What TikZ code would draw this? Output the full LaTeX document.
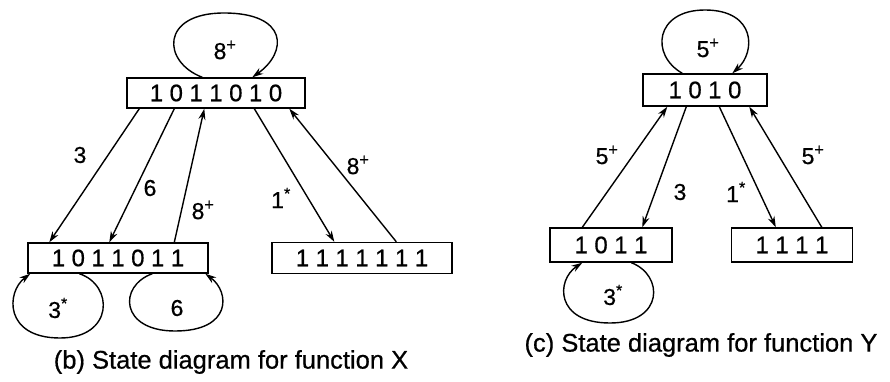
\documentclass[tikz,border=0pt]{standalone}
\usepackage{fontspec}
\setmainfont{Liberation Sans}[FakeBold=0.6]
\usetikzlibrary{arrows.meta}
\newcommand\gp{\kern6.5pt}
\begin{document}
\begin{tikzpicture}[x=1pt,y=-1pt,
  statebox/.style={draw,line width=1.4pt,inner sep=0pt,font=\fontsize{24}{24}\selectfont},
  arr/.style={line width=1.4pt,-{Stealth[length=11pt,width=7pt]}},
  lbl/.style={font=\fontsize{23}{23}\selectfont,inner sep=0pt},
  captext/.style={font=\fontsize{25.5}{26}\selectfont,inner sep=0pt}]
\useasboundingbox (0,0) rectangle (890,382);
% boxes (b)
\node[statebox,minimum width=178pt,minimum height=30pt] (X1) at (216,93) {1\gp0\gp1\gp1\gp0\gp1\gp0};
\node[statebox,minimum width=180pt,minimum height=30pt] (X2) at (118,258) {1\gp0\gp1\gp1\gp0\gp1\gp1};
\node[statebox,minimum width=180pt,minimum height=31pt] (X3) at (362,258) {1\gp1\gp1\gp1\gp1\gp1\gp1};
% boxes (c)
\node[statebox,minimum width=124pt,minimum height=32pt] (Y1) at (705,90) {1\gp0\gp1\gp0};
\node[statebox,minimum width=122pt,minimum height=34pt] (Y2) at (611,245) {1\gp0\gp1\gp1};
\node[statebox,minimum width=121pt,minimum height=34pt] (Y3) at (792,245) {1\gp1\gp1\gp1};
% arrows (b)
\draw[arr] ([xshift=13pt]X1.south west) -- ([xshift=22pt]X2.north west);
\draw[arr] ([xshift=48pt]X1.south west) -- ([xshift=82pt]X2.north west);
\draw[arr] ([xshift=147pt]X2.north west) -- ([xshift=78pt]X1.south west);
\draw[arr] ([xshift=128pt]X1.south west) -- ([xshift=63pt]X3.north west);
\draw[arr] ([xshift=125pt]X3.north west) -- ([xshift=163pt]X1.south west);
% loops (b)
\draw[arr] ([xshift=76pt]X1.north west) .. controls (162,62) and (160,13) .. (224,13)
  .. controls (288,13) and (288,52) .. ([xshift=126pt]X1.north west);
\draw[arr] ([xshift=52pt]X2.south west) .. controls (114,285) and (114,338) .. (60,338)
  .. controls (4,338) and (6,292) .. ([xshift=3pt]X2.south west);
\draw[arr] ([xshift=125pt]X2.south west) .. controls (118,286) and (120,331) .. (175,331)
  .. controls (232,331) and (230,292) .. ([xshift=178pt]X2.south west);
% arrows (c)
\draw[arr] ([xshift=33pt]Y2.north west) -- ([xshift=25pt]Y1.south west);
\draw[arr] ([xshift=44pt]Y1.south west) -- ([xshift=93pt]Y2.north west);
\draw[arr] ([xshift=77pt]Y1.south west) -- ([xshift=45pt]Y3.north west);
\draw[arr] ([xshift=91pt]Y3.north west) -- ([xshift=107pt]Y1.south west);
% loops (c)
\draw[arr] ([xshift=40pt]Y1.north west) .. controls (650,55) and (655,10) .. (705,10)
  .. controls (756,10) and (756,52) .. ([xshift=90pt]Y1.north west);
\draw[arr] ([xshift=82pt]Y2.south west) .. controls (664,275) and (664,323) .. (610,323)
  .. controls (555,323) and (556,280) .. ([xshift=33pt]Y2.south west);
% labels (b)
\node[lbl] (l1) at (225,50) {8\textsuperscript{+}};
\node[lbl] (l2) at (80,155) {3};
\node[lbl] (l3) at (150,188) {6};
\node[lbl] (l4) at (203,210) {8\textsuperscript{+}};
\node[lbl] (l5) at (281,198) {1\textsuperscript{*}};
\node[lbl] (l6) at (358,165) {8\textsuperscript{+}};
\node[lbl] (l7) at (58,308) {3\textsuperscript{*}};
\node[lbl] (l8) at (177,308) {6};
% labels (c)
\node[lbl] (m1) at (708,48) {5\textsuperscript{+}};
\node[lbl] (m2) at (607,155) {5\textsuperscript{+}};
\node[lbl] (m3) at (680,192) {3};
\node[lbl] (m4) at (736,192) {1\textsuperscript{*}};
\node[lbl] (m5) at (813,155) {5\textsuperscript{+}};
\node[lbl] (m6) at (613,295) {3\textsuperscript{*}};
% captions
\node[captext] (c1) at (231,362) {(b) State diagram for function X};
\node[captext] (c2) at (701,345) {(c) State diagram for function Y};
\end{tikzpicture}
\end{document}
